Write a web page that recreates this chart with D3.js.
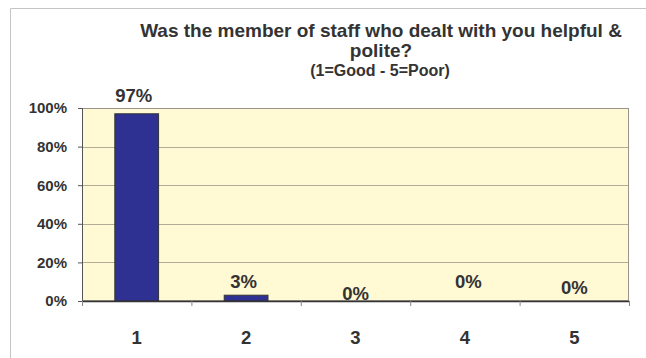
<!DOCTYPE html>
<html>
<head>
<meta charset="utf-8">
<script src="https://cdn.jsdelivr.net/npm/d3@7"></script>
<style>
  html, body { margin: 0; padding: 0; background: #ffffff; }
  svg { display: block; }
  text { font-family: "Liberation Sans", Arial, Helvetica, sans-serif; font-weight: bold; fill: #333333; }
</style>
</head>
<body>
<svg id="chart" width="646" height="358"></svg>
<script>
// Survey answers: share of respondents per rating
const categories = ["1", "2", "3", "4", "5"];
const shares = [0.97, 0.03, 0, 0, 0];
const valueLabels = ["97%", "3%", "0%", "0%", "0%"];
const yTicks = [0, 0.2, 0.4, 0.6, 0.8, 1.0];
const titleLines = ["Was the member of staff who dealt with you helpful &", "polite?"];
const subtitle = "(1=Good - 5=Poor)";

// Per-label placement tweaks (dx, dy from the default spot above each bar)
const labelNudge = [[-3, -12], [-2.5, -7], [0, -1], [3.5, -12.7], [0, -6.7]];

const svg = d3.select("#chart");
const plot = { left: 82, right: 629, top: 108, bottom: 301 };

// Outer chart frame (top and left edges visible)
svg.append("path")
  .attr("d", "M10.5,358 L10.5,8.5 L646,8.5")
  .attr("fill", "none")
  .attr("stroke", "#c4c4c4")
  .attr("stroke-width", 1);

const x = d3.scaleBand()
  .domain(categories)
  .range([plot.left, plot.right])
  .paddingInner(0.6)
  .paddingOuter(0.3);

const xCat = d3.scaleBand()
  .domain(categories)
  .range([plot.left, plot.right]);

const y = d3.scaleLinear()
  .domain([0, 1])
  .range([plot.bottom, plot.top]);

// Plot background
svg.append("rect")
  .attr("x", plot.left).attr("y", plot.top)
  .attr("width", plot.right - plot.left)
  .attr("height", plot.bottom - plot.top)
  .attr("fill", "#fff9d4");

// Gridlines
svg.append("g")
  .selectAll("line")
  .data(yTicks.filter(t => t > 0 && t < 1))
  .join("line")
  .attr("x1", plot.left).attr("x2", plot.right)
  .attr("y1", d => Math.round(y(d)) + 0.5)
  .attr("y2", d => Math.round(y(d)) + 0.5)
  .attr("stroke", "#b3ac98")
  .attr("stroke-width", 1);

// Plot frame
svg.append("rect")
  .attr("x", plot.left + 0.5).attr("y", plot.top + 0.5)
  .attr("width", plot.right - plot.left - 1)
  .attr("height", plot.bottom - plot.top - 1)
  .attr("fill", "none")
  .attr("stroke", "#9a9488")
  .attr("stroke-width", 1);

// Bars
svg.append("g")
  .selectAll("rect")
  .data(shares)
  .join("rect")
  .attr("x", (d, i) => x(categories[i]))
  .attr("y", d => y(d))
  .attr("width", x.bandwidth())
  .attr("height", d => plot.bottom - y(d))
  .attr("fill", "#2e3192")
  .attr("stroke", "#333333")
  .attr("stroke-width", 1);

// Y axis
const yAxis = svg.append("g")
  .attr("transform", `translate(${plot.left},0)`)
  .call(d3.axisLeft(y).tickValues(yTicks).tickFormat(d3.format(".0%")).tickSize(4).tickPadding(11));
yAxis.select(".domain").attr("stroke", "#555555");
yAxis.selectAll(".tick line").attr("stroke", "#555555");
yAxis.selectAll(".tick text")
  .attr("font-size", 15)
  .attr("font-family", null)
  .attr("fill", "#333333");

// X axis with ticks on category boundaries
const xAxis = svg.append("g")
  .attr("transform", `translate(0,${plot.bottom})`)
  .call(d3.axisBottom(xCat).tickSize(0).tickPadding(30));
xAxis.select(".domain").attr("stroke", "#333333").attr("stroke-width", 1.5);
xAxis.selectAll(".tick text")
  .attr("font-size", 18.5)
  .attr("font-family", null)
  .attr("fill", "#333333");

svg.append("g")
  .selectAll("line")
  .data(categories.concat(["end"]))
  .join("line")
  .attr("x1", (d, i) => plot.left + i * xCat.step() + 0.5)
  .attr("x2", (d, i) => plot.left + i * xCat.step() + 0.5)
  .attr("y1", plot.bottom)
  .attr("y2", plot.bottom + 5)
  .attr("stroke", "#888888");

// Value labels
svg.append("g")
  .selectAll("text")
  .data(valueLabels)
  .join("text")
  .attr("x", (d, i) => x(categories[i]) + x.bandwidth() / 2 + labelNudge[i][0])
  .attr("y", (d, i) => y(shares[i]) + labelNudge[i][1])
  .attr("text-anchor", "middle")
  .attr("font-size", 18.5)
  .text(d => d);

// Title
const title = svg.append("g");
title.selectAll("text.line")
  .data(titleLines)
  .join("text")
  .attr("class", "line")
  .attr("x", 381)
  .attr("y", (d, i) => 36.5 + i * 20)
  .attr("text-anchor", "middle")
  .attr("font-size", 19)
  .text(d => d);
title.append("text")
  .attr("x", 380)
  .attr("y", 76)
  .attr("text-anchor", "middle")
  .attr("font-size", 16)
  .text(subtitle);
</script>
</body>
</html>
